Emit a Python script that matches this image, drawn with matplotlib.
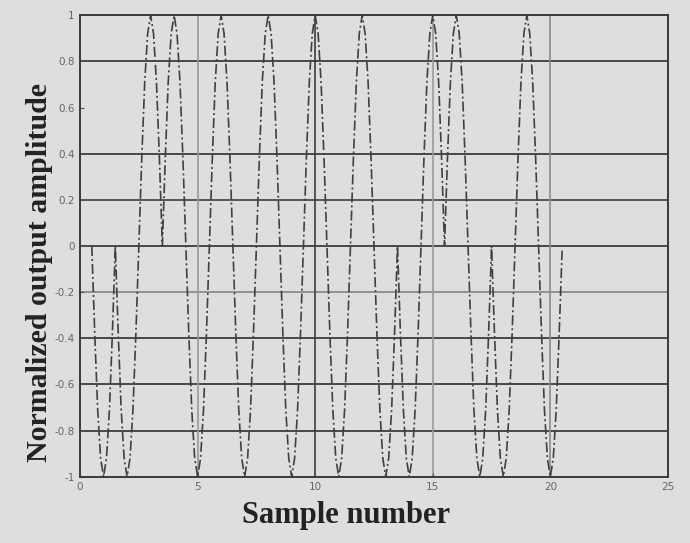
import numpy as np
import matplotlib
matplotlib.use("Agg")
import matplotlib.pyplot as plt

# Symbol amplitudes read at each integer sample (1..20)
samples = [1, 2, 3, 4, 5, 6, 7, 8, 9, 10, 11, 12, 13, 14, 15, 16, 17, 18, 19, 20]
symbols = [-1, -1, 1, 1, -1, 1, -1, 1, -1, 1, -1, 1, -1, -1, 1, 1, -1, -1, 1, -1]
# Pulse shape: offsets from the sample centre and relative amplitude
pulse_offsets = [-0.5, -0.375, -0.25, -0.125, 0.0, 0.125, 0.25, 0.375]
pulse_values = [0.0, 0.38, 0.71, 0.92, 1.0, 0.92, 0.71, 0.38]
end_point = (20.5, -0.02)

x_ticks = [0, 5, 10, 15, 20, 25]
y_ticks = [-1, -0.8, -0.6, -0.4, -0.2, 0, 0.2, 0.4, 0.6, 0.8, 1]
y_tick_labels = ["-1", "-0.8", "-0.6", "-0.4", "-0.2", "0", "0.2", "0.4", "0.6", "0.8", "1"]

# build the curve from the symbol list and the pulse shape
xs, ys = [], []
for n, s in zip(samples, symbols):
    for o, v in zip(pulse_offsets, pulse_values):
        xs.append(n + o)
        ys.append(s * v)
xs.append(end_point[0])
ys.append(end_point[1])

bg = "#dedede"
fig = plt.figure(figsize=(6.9, 5.43), dpi=100, facecolor=bg)
ax = fig.add_axes([0.116, 0.122, 0.852, 0.850], facecolor=bg)

ax.set_xlim(0, 25)
ax.set_ylim(-1, 1)

# grid lines (0.6 line absent in the reference scan)
hgrid = {-0.8: "#3c3c3c", -0.6: "#3c3c3c", -0.4: "#3c3c3c", -0.2: "#8a8a8a",
         0.0: "#3c3c3c", 0.2: "#4a4a4a", 0.4: "#3c3c3c", 0.8: "#3c3c3c"}
for yv, c in hgrid.items():
    ax.axhline(yv, color=c, lw=1.3, zorder=1)
vgrid = {5: "#9a9a9a", 10: "#3c3c3c", 15: "#9a9a9a", 20: "#8a8a8a"}
for xv, c in vgrid.items():
    ax.axvline(xv, color=c, lw=1.2, zorder=1)

ax.plot(xs, ys, color="#404040", lw=1.2, linestyle=(0, (6, 1.8, 1.2, 1.8)), zorder=3)

ax.set_xticks(x_ticks)
ax.set_xticklabels([str(t) for t in x_ticks])
ax.set_yticks(y_ticks)
ax.set_yticklabels(y_tick_labels)
ax.tick_params(direction="in", length=3, width=0.8, colors="#555555",
               labelsize=7.5, labelcolor="#666666", pad=4)

for sp in ax.spines.values():
    sp.set_color("#3a3a3a")
    sp.set_linewidth(1.4)

fig.text(346 / 690, 1 - 516 / 543, "Sample number", family="Liberation Serif",
         fontweight="bold", fontsize=22, color="#222222", ha="center", va="center")
fig.text(40 / 690, 1 - 272 / 543, "Normalized output amplitude", family="Liberation Serif",
         fontweight="bold", fontsize=21.5, color="#222222", ha="center", va="center",
         rotation=90)

fig.savefig("out.png", dpi=100, facecolor=bg)
